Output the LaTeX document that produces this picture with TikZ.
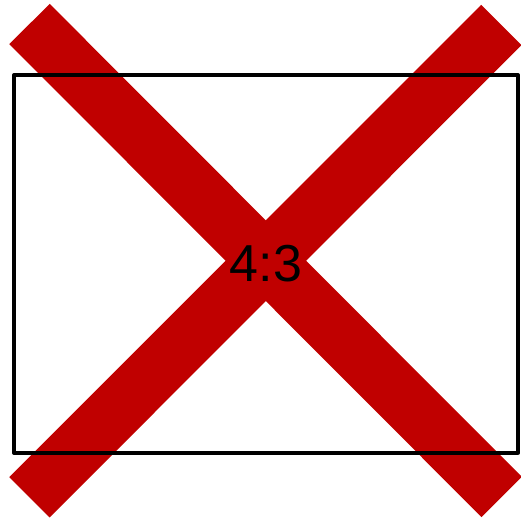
\documentclass[tikz,border=0pt]{standalone}
\usepackage{fontspec}
\setmainfont{Liberation Sans}
\usetikzlibrary{positioning}

\begin{document}
\begin{tikzpicture}[
    x=1pt, y=-1pt,
    bar/.style={draw=crossred, line width=57pt},
    screen/.style={rectangle, draw=black, line width=4pt, line join=round,
        minimum width=504pt, minimum height=377.7pt, inner sep=0pt,
        font=\fontsize{52}{60}\selectfont},
]
    \definecolor{crossred}{HTML}{C00000}
    \useasboundingbox (0,0) rectangle (521,518);

    \coordinate (tl) at (29.5,24);
    \coordinate (br) at (501.7,497);
    \coordinate (tr) at (501.3,25);
    \coordinate (bl) at (29.5,497.3);

    % red cross
    \draw[bar] (tl) -- (br);
    \draw[bar] (tr) -- (bl);

    % frame
    \node[screen] (frame) at (266,263.9) {4:3};

\end{tikzpicture}
\end{document}
